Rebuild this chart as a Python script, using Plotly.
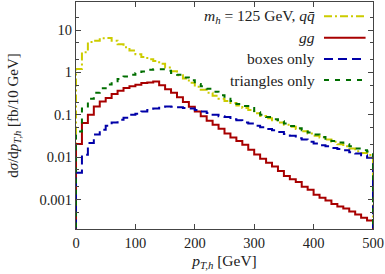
import plotly.graph_objects as go

bin_edges = list(range(0, 510, 10))  # 0..500 GeV, 10 GeV bins

qqbar = [1.2, 3.0, 5.2, 5.6, 6.4, 6.5, 5.6, 4.6, 3.9, 3.3,
         2.7, 2.3, 2.05, 1.85, 1.6, 1.3, 1.06, 0.86, 0.72, 0.57,
         0.46, 0.39, 0.33, 0.28, 0.24, 0.21, 0.19, 0.165, 0.145, 0.13,
         0.108, 0.094, 0.083, 0.074, 0.066, 0.058, 0.052, 0.046, 0.041, 0.036,
         0.032, 0.029, 0.026, 0.023, 0.020, 0.018, 0.016, 0.0138, 0.0125, 0.0112]

gg = [0.0205, 0.064, 0.10, 0.157, 0.206, 0.25, 0.31, 0.37, 0.43, 0.47,
      0.51, 0.56, 0.58, 0.61, 0.50, 0.40, 0.33, 0.26, 0.20, 0.155,
      0.12, 0.092, 0.072, 0.058, 0.047, 0.036, 0.029, 0.024, 0.0195, 0.015,
      0.0115, 0.0092, 0.0074, 0.006, 0.0047, 0.0036, 0.003, 0.0026, 0.002, 0.0017,
      0.0013, 0.0011, 0.00095, 0.00078, 0.00068, 0.00061, 0.00052, 0.00044, 0.00037, 0.00032]

boxes = [0.0043, 0.0114, 0.0215, 0.034, 0.044, 0.055, 0.066, 0.076, 0.085, 0.10,
         0.106, 0.12, 0.13, 0.14, 0.155, 0.157, 0.155, 0.15, 0.145, 0.14,
         0.13, 0.12, 0.11, 0.10, 0.092, 0.088, 0.078, 0.074, 0.066, 0.062,
         0.055, 0.051, 0.046, 0.043, 0.039, 0.035, 0.032, 0.028, 0.026, 0.023,
         0.021, 0.019, 0.018, 0.0165, 0.0155, 0.0145, 0.013, 0.0122, 0.011, 0.0097]

triangles = [0.04, 0.14, 0.24, 0.33, 0.42, 0.52, 0.62, 0.70, 0.80, 0.88,
             0.97, 1.05, 1.15, 1.18, 1.18, 1.10, 0.97, 0.88, 0.76, 0.65,
             0.53, 0.47, 0.41, 0.35, 0.29, 0.24, 0.21, 0.18, 0.16, 0.145,
             0.115, 0.10, 0.088, 0.078, 0.07, 0.062, 0.054, 0.048, 0.043, 0.038,
             0.034, 0.030, 0.027, 0.024, 0.022, 0.020, 0.018, 0.016, 0.0145, 0.0135]

series_names = ["<i>m</i><sub><i>h</i></sub> = 125 GeV, <i>q</i><i>q̄</i>", "<i>gg</i>",
                "boxes only", "triangles only"]
series_values = [qqbar, gg, boxes, triangles]
series_colors = ["#cccc00", "#a80000", "#0000a8", "#006e00"]
series_dash = ["8px,3px,2px,3px", "solid", "9px,5px", "5px,6px"]

y_tickvals = [10, 1, 0.1, 0.01, 0.001]
y_ticktext = ["10", "1", "0.1", "0.01", "0.001"]
x_tickvals = [0, 100, 200, 300, 400, 500]

FONT = "Liberation Serif"
TXT = "#222"
TINY = 1e-6

fig = go.Figure()
for name, vals, col, dash in zip(series_names, series_values, series_colors, series_dash):
    xs = [bin_edges[0]] + bin_edges[:-1] + [bin_edges[-1], bin_edges[-1]]
    ys = [TINY] + vals + [vals[-1], TINY]
    fig.add_trace(go.Scatter(x=xs, y=ys, mode="lines", line_shape="hv",
                             line=dict(color=col, width=2, dash=dash),
                             name=name, showlegend=False))

# legend drawn with text right-aligned and sample to the right (gnuplot style)
leg_y = [0.937, 0.843, 0.749, 0.656]
for i, (name, col, dash) in enumerate(zip(series_names, series_colors, series_dash)):
    fig.add_annotation(x=0.81, y=leg_y[i], xref="paper", yref="paper", text=name,
                       showarrow=False, xanchor="right", yanchor="middle",
                       font=dict(family=FONT, size=15.5, color=TXT))
    fig.add_shape(type="line", xref="paper", yref="paper", x0=0.835, x1=0.975,
                  y0=leg_y[i], y1=leg_y[i], line=dict(color=col, width=2, dash=dash))

minor_y = []
for e in [0.0001, 0.001, 0.01, 0.1, 1, 10]:
    minor_y += [2 * e, 5 * e]

fig.update_xaxes(range=[0, 500], tickvals=x_tickvals, ticks="inside", ticklen=5,
                 tickcolor="#444", showline=True, linecolor="#444", linewidth=1.2,
                 mirror="allticks", showgrid=False, zeroline=False, automargin=False,
                 tickfont=dict(family=FONT, size=14.5, color=TXT),
                 title=dict(text="<i>p</i><sub><i>T,h</i></sub> [GeV]",
                            font=dict(family=FONT, size=15.5, color=TXT), standoff=5))
fig.update_yaxes(type="log", range=[-3.697, 1.662], tickvals=y_tickvals, ticktext=y_ticktext,
                 ticks="inside", ticklen=5, tickcolor="#444", showline=True,
                 linecolor="#444", linewidth=1.2, mirror="allticks", showgrid=False,
                 zeroline=False, automargin=False,
                 minor=dict(tickvals=minor_y, ticks="inside", ticklen=3, tickcolor="#444"),
                 tickfont=dict(family=FONT, size=14.5, color=TXT),
                 title=dict(text="d<i>σ</i>/d<i>p</i><sub><i>T,h</i></sub> [fb/10 GeV]",
                            font=dict(family=FONT, size=15, color=TXT), standoff=17))

fig.update_layout(width=385, height=274, margin=dict(l=76, r=12, t=2, b=45),
                  plot_bgcolor="white", paper_bgcolor="white", showlegend=False)

fig.write_html("out.html", config={"displayModeBar": False},
               post_script="document.body.style.margin='0px';")
